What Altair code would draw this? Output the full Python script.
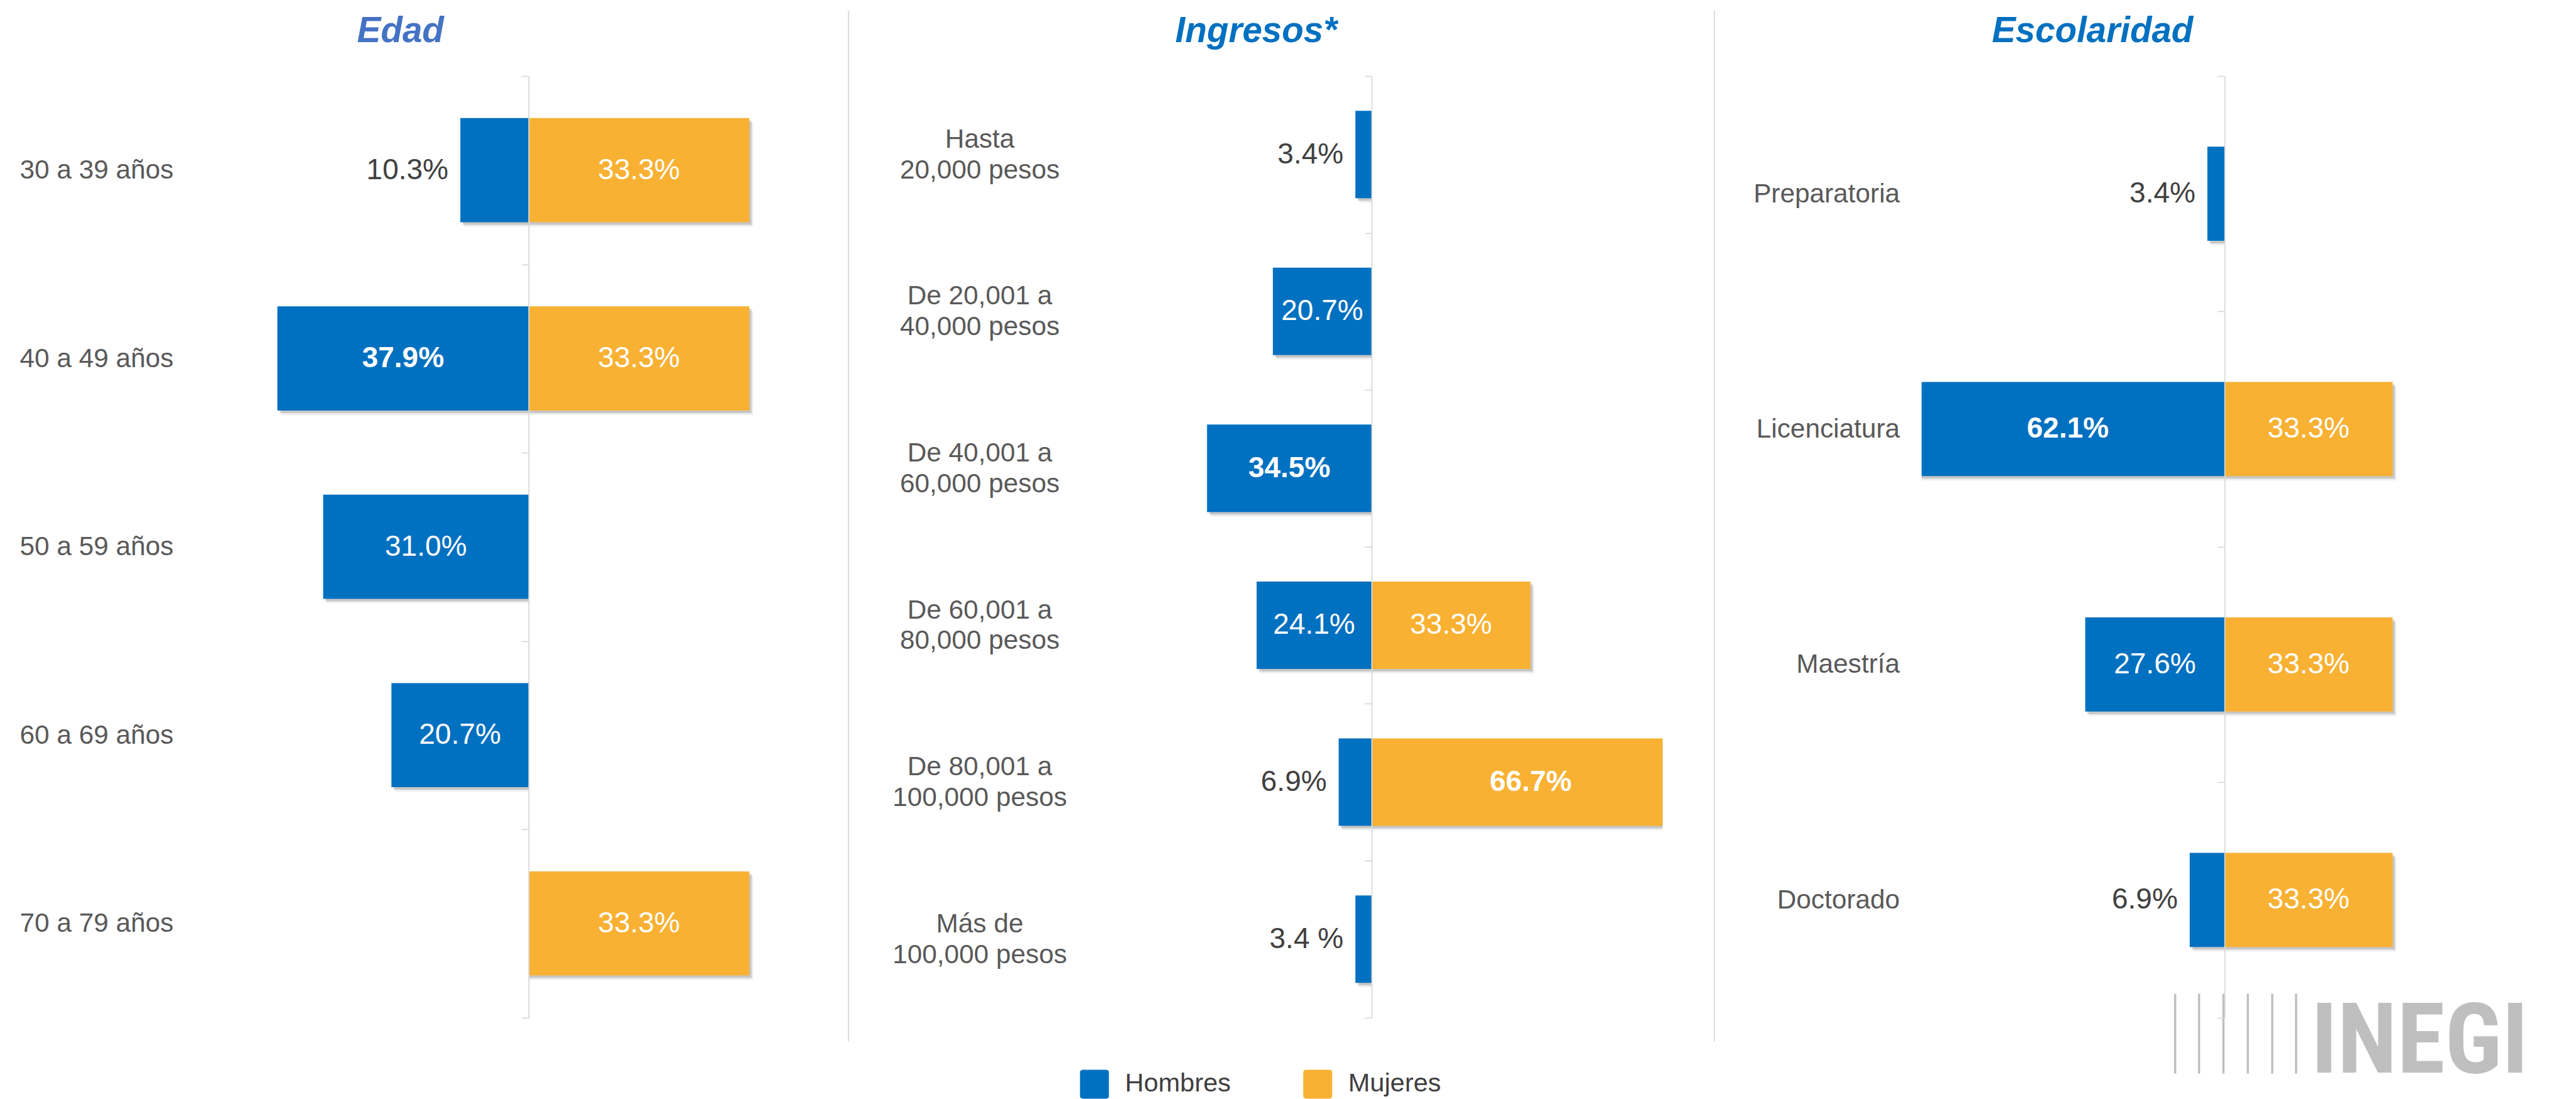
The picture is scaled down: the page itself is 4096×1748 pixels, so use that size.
import altair as alt
import pandas as pd

# ---------------- data ----------------
edad_cats = ["30 a 39 años", "40 a 49 años", "50 a 59 años", "60 a 69 años", "70 a 79 años"]
edad_hombres = [10.3, 37.9, 31.0, 20.7, 0.0]
edad_mujeres = [33.3, 33.3, 0.0, 0.0, 33.3]

ing_cats = ["Hasta\n20,000 pesos", "De 20,001 a\n40,000 pesos", "De 40,001 a\n60,000 pesos",
            "De 60,001 a\n80,000 pesos", "De 80,001 a\n100,000 pesos", "Más de\n100,000 pesos"]
ing_hombres = [3.4, 20.7, 34.5, 24.1, 6.9, 3.4]
ing_mujeres = [0.0, 0.0, 0.0, 33.3, 66.7, 0.0]
ing_hombres_labels = ["3.4%", "20.7%", "34.5%", "24.1%", "6.9%", "3.4 %"]

esc_cats = ["Preparatoria", "Licenciatura", "Maestría", "Doctorado"]
esc_hombres = [3.4, 62.1, 27.6, 6.9]
esc_mujeres = [0.0, 33.3, 33.3, 33.3]

titles = ["Edad", "Ingresos*", "Escolaridad"]
series = ["Hombres", "Mujeres"]
logo_text = "INEGI"

# ---------------- style / layout ----------------
S = 0.882
def P(v):
    return v * S

FONT = "Liberation Sans"
BLUE, ORANGE = "#0070C0", "#F8B133"
GRID = "#D9D9D9"
TICK = 11.5
LAB_FS = 42.3
VAL_FS = 46
TITLE_FS = 56.5
LINE_H = P(55.5)

top = P(136)
H = P(1834) - top
zero1, zero2, zero3 = P(953), P(2472), P(4009)
k1, k2, k3 = P(11.95), P(8.6), P(9.1)
d2, d3 = 61.0, 60.0
W2 = 2 * d2 * k2
left2 = zero2 - d2 * k2
W3 = 2 * d3 * k3
left3 = zero3 - d3 * k3
SP = left3 - (left2 + W2)
right1 = left2 - SP
d1 = (right1 - zero1) / k1
W1 = 2 * d1 * k1
left1 = zero1 - d1 * k1

ROUNDSQ = "M-0.8,-1H0.8Q1,-1,1,-0.8V0.8Q1,1,0.8,1H-0.8Q-1,1,-1,0.8V-0.8Q-1,-1,-0.8,-1Z"
legend = alt.Legend(
    orient="none", legendX=P(1947) - left1, legendY=P(1928) - top,
    direction="horizontal", title=None, symbolType=ROUNDSQ, symbolSize=46 * 46,
    symbolStrokeWidth=0, symbolOpacity=1, labelFont=FONT, labelFontSize=41.5,
    labelColor="#404040", labelOffset=25.5, columnPadding=115, padding=0,
    labelLimit=1000,
)


def make_df(cats, hom, muj, hom_labels=None):
    rows = []
    hmax, mmax = max(hom), max(muj)
    h_unique = hom.count(hmax) == 1
    m_unique = muj.count(mmax) == 1
    for i, c in enumerate(cats):
        if hom[i] > 0:
            inside = hom[i] >= 15
            rows.append(dict(cat=c, sexo=series[0], v=hom[i], x0=-hom[i],
                             tx=-hom[i] / 2 if inside else -hom[i],
                             lbl=hom_labels[i] if hom_labels else f"{hom[i]:.1f}%",
                             inside=inside, bold=bool(h_unique and hom[i] == hmax)))
        if muj[i] > 0:
            inside = muj[i] >= 15
            rows.append(dict(cat=c, sexo=series[1], v=muj[i], x0=muj[i],
                             tx=muj[i] / 2 if inside else muj[i],
                             lbl=f"{muj[i]:.1f}%",
                             inside=inside, bold=bool(m_unique and muj[i] == mmax)))
    return pd.DataFrame(rows)


def panel(df, cats, dom, width, left, zero, frac, label_align, label_anchor,
          title, title_color, title_center, extra=()):
    n_lines = max(len(c.split("\n")) for c in cats)
    xs = alt.Scale(domain=[-dom, dom], nice=False, zero=False)
    ys = alt.Scale(domain=cats, paddingInner=0, paddingOuter=0)
    y_axis = alt.Axis(
        title=None, labelExpr="split(datum.label, '\\n')", labelAlign=label_align,
        labelBaseline="middle", labelPadding=(zero - label_anchor) - TICK,
        labelOffset=-(n_lines - 1) * LINE_H / 2,
        labelFont=FONT, labelFontSize=LAB_FS, labelColor="#595959",
        labelLineHeight=LINE_H, labelLimit=2000, tickBand="extent", tickSize=TICK,
        tickColor=GRID, tickWidth=1.8, domainColor=GRID, domainWidth=1.8,
        offset=-(zero - left), zindex=1, grid=False,
    )
    y = alt.Y("cat:N", sort=cats, scale=ys, axis=y_axis)
    x = alt.X("x0:Q", scale=xs, axis=None)
    tx = alt.X("tx:Q", scale=xs, axis=None)
    base = alt.Chart(df)
    bh = alt.RelativeBandSize(band=frac)
    shadow2 = base.mark_bar(height=bh, color="#000000", opacity=0.07, xOffset=6, yOffset=7,
                            clip=True).encode(y=y, x=x, x2=alt.datum(0))
    shadow1 = base.mark_bar(height=bh, color="#000000", opacity=0.16, xOffset=3.5, yOffset=4,
                            clip=True).encode(y=y, x=x, x2=alt.datum(0))
    bars = base.mark_bar(height=bh, clip=True).encode(
        y=y, x=x, x2=alt.datum(0),
        color=alt.Color("sexo:N", scale=alt.Scale(domain=series, range=[BLUE, ORANGE]),
                        legend=legend),
    )
    t_in = base.transform_filter("datum.inside && !datum.bold").mark_text(
        align="center", baseline="middle", color="white", font=FONT, fontSize=VAL_FS
    ).encode(y=y, x=tx, text="lbl:N")
    t_in_b = base.transform_filter("datum.inside && datum.bold").mark_text(
        align="center", baseline="middle", color="white", font=FONT, fontSize=VAL_FS,
        fontWeight="bold"
    ).encode(y=y, x=tx, text="lbl:N")
    t_out = base.transform_filter("!datum.inside").mark_text(
        align="right", baseline="middle", color="#404040", font=FONT, fontSize=VAL_FS, dx=-19
    ).encode(y=y, x=tx, text="lbl:N")
    ttl = alt.Chart(alt.Data(values=[{"t": title}])).mark_text(
        align="center", baseline="alphabetic", font=FONT, fontSize=TITLE_FS,
        fontStyle="italic", fontWeight="bold", color=title_color
    ).encode(x=alt.value(title_center - left), y=alt.value(P(75) - top), text="t:N")
    layers = [shadow2, shadow1, bars, t_in, t_in_b, t_out, ttl] + list(extra)
    return alt.layer(*layers).properties(width=width, height=H)


def vrule(xpix, y1, y2, color, sw):
    return alt.Chart(alt.Data(values=[{}])).mark_rule(color=color, strokeWidth=sw).encode(
        x=alt.value(xpix), y=alt.value(y1), y2=alt.value(y2))


df1 = make_df(edad_cats, edad_hombres, edad_mujeres)
df2 = make_df(ing_cats, ing_hombres, ing_mujeres, ing_hombres_labels)
df3 = make_df(esc_cats, esc_hombres, esc_mujeres)

seps = [vrule(P(xf) - left2, P(18) - top, P(1877) - top, GRID, 1.8) for xf in (1529, 3090)]

logo_lines = [vrule(P(xf) - left3, P(1791) - top, P(1935) - top, "#BFBFBF", 3.5)
              for xf in (3920, 3963, 4007, 4051, 4095, 4138)]
logo = alt.Chart(alt.Data(values=[{"t": logo_text}])).mark_text(
    align="left", baseline="alphabetic", fontSize=155, fontWeight="bold",
    font="Roboto Condensed, DejaVu Sans Condensed, Liberation Sans",
    color="#BFBFBF", limit=400, ellipsis=""
).encode(x=alt.value(P(4165) - left3), y=alt.value(P(1933) - top), text="t:N")

p1 = panel(df1, edad_cats, d1, W1, left1, zero1, 0.553, "left", P(35),
           titles[0], "#4472C4", P(722))
p2 = panel(df2, ing_cats, d2, W2, left2, zero2, 0.557, "center", P(1765),
           titles[1], "#0070C0", P(2264), extra=seps)
p3 = panel(df3, esc_cats, d3, W3, left3, zero3, 0.40, "right", P(3423),
           titles[2], "#0070C0", P(3771), extra=logo_lines + [logo])

chart = alt.hconcat(p1, p2, p3, spacing=SP, bounds="flush").properties(
    padding={"left": P(35) - 8, "top": P(18) - 8, "right": 4, "bottom": 0}
).configure(
    font=FONT, view=alt.ViewConfig(stroke=None)
)

chart.save("out.html", embed_options={"renderer": "svg", "actions": False})
